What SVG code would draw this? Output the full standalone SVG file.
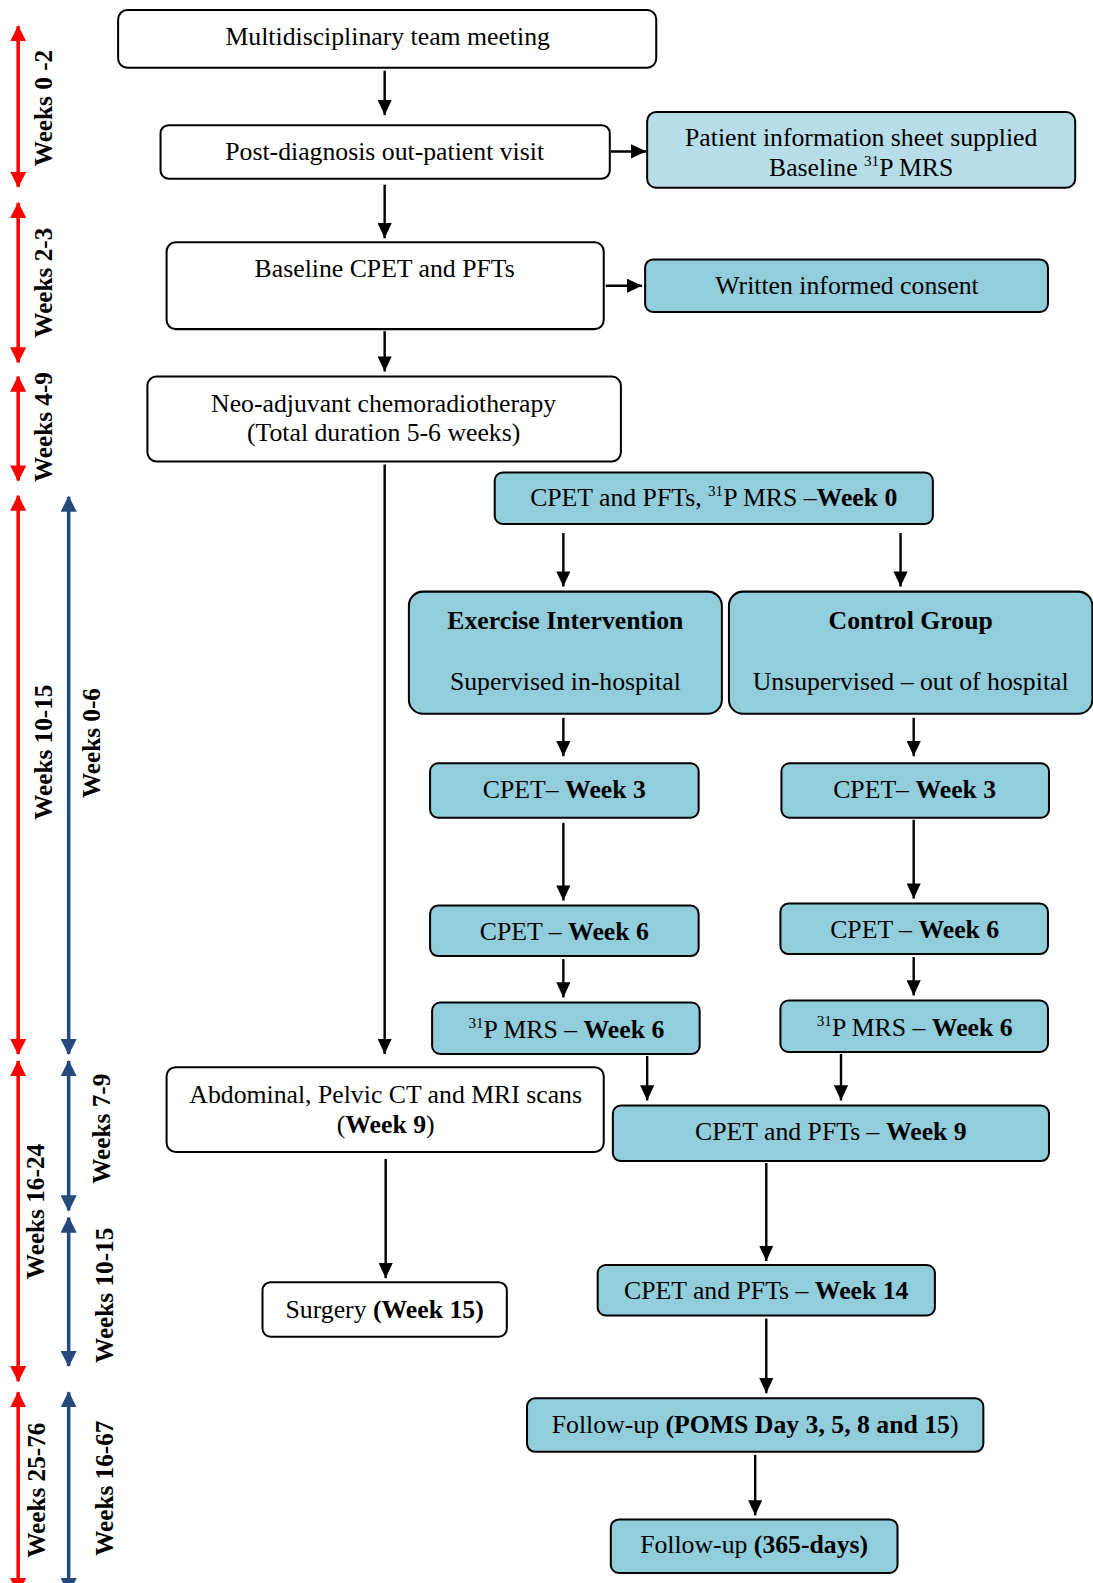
<svg xmlns="http://www.w3.org/2000/svg" width="1093" height="1583" viewBox="0 0 1093 1583">
<style>
.t{font-family:"Liberation Serif","Times New Roman",serif;font-size:25.5px;fill:#000;text-anchor:middle}
.b{font-weight:bold}
.lbl{font-family:"Liberation Serif","Times New Roman",serif;font-size:25px;font-weight:bold;fill:#000;text-anchor:middle}
.sup{font-size:15px}
.w{fill:#fff;stroke:#000;stroke-width:2}
.l{fill:#b7dee8;stroke:#000;stroke-width:2}
.m{fill:#92cddc;stroke:#000;stroke-width:2}
.c{stroke:#000;stroke-width:2.4;fill:none;marker-end:url(#ah)}
.red{stroke:#ff0000;stroke-width:3.5;fill:none;marker-start:url(#rh);marker-end:url(#rh)}
.blue{stroke:#244a7c;stroke-width:3.5;fill:none;marker-start:url(#bh);marker-end:url(#bh)}
</style>
<defs>
<marker id="ah" markerUnits="userSpaceOnUse" markerWidth="15" markerHeight="14" refX="15" refY="7" orient="auto" viewBox="0 0 15 14">
<path d="M0,0 L15,7 L0,14 Z" fill="#000"/>
</marker>
<marker id="rh" markerUnits="userSpaceOnUse" markerWidth="16" markerHeight="16" refX="15" refY="8" orient="auto-start-reverse" viewBox="0 0 16 16">
<path d="M0,0 L16,8 L0,16 Z" fill="#ff0000"/>
</marker>
<marker id="bh" markerUnits="userSpaceOnUse" markerWidth="16" markerHeight="16" refX="15" refY="8" orient="auto-start-reverse" viewBox="0 0 16 16">
<path d="M0,0 L16,8 L0,16 Z" fill="#244a7c"/>
</marker>
</defs>
<rect width="1093" height="1583" fill="#fff"/>
<g transform="scale(1.0096)">
<g id="timeline">
<line class="red" x1="18" y1="26" x2="18" y2="185"/>
<line class="red" x1="18" y1="201" x2="18" y2="359"/>
<line class="red" x1="18" y1="373" x2="18" y2="476"/>
<line class="red" x1="18" y1="491" x2="18" y2="1044"/>
<line class="red" x1="18" y1="1051" x2="18" y2="1368"/>
<line class="red" x1="18" y1="1379" x2="18" y2="1578"/>
<line class="blue" x1="68" y1="492" x2="68" y2="1044"/>
<line class="blue" x1="68" y1="1051" x2="68" y2="1199"/>
<line class="blue" x1="68" y1="1206" x2="68" y2="1353"/>
<line class="blue" x1="68" y1="1379" x2="68" y2="1578"/>
<text class="lbl" transform="translate(52,107) rotate(-90)">Weeks 0 -2</text>
<text class="lbl" transform="translate(52,280) rotate(-90)">Weeks 2-3</text>
<text class="lbl" transform="translate(52,423) rotate(-90)">Weeks 4-9</text>
<text class="lbl" transform="translate(52,745) rotate(-90)">Weeks 10-15</text>
<text class="lbl" transform="translate(99,736) rotate(-90)">Weeks 0-6</text>
<text class="lbl" transform="translate(44,1200) rotate(-90)">Weeks 16-24</text>
<text class="lbl" transform="translate(109,1118) rotate(-90)">Weeks 7-9</text>
<text class="lbl" transform="translate(112,1283) rotate(-90)">Weeks 10-15</text>
<text class="lbl" transform="translate(45,1476) rotate(-90)">Weeks 25-76</text>
<text class="lbl" transform="translate(112,1474) rotate(-90)">Weeks 16-67</text>
</g>

<g id="connectors">
<line class="c" x1="381" y1="70" x2="381" y2="114"/>
<line class="c" x1="605" y1="150" x2="640" y2="150"/>
<line class="c" x1="381" y1="183" x2="381" y2="236"/>
<line class="c" x1="600" y1="283" x2="636" y2="283"/>
<line class="c" x1="381" y1="328" x2="381" y2="368"/>
<line class="c" x1="381" y1="460" x2="381" y2="1044"/>
<line class="c" x1="558" y1="528" x2="558" y2="581"/>
<line class="c" x1="892" y1="528" x2="892" y2="581"/>
<line class="c" x1="558" y1="711" x2="558" y2="749"/>
<line class="c" x1="905" y1="711" x2="905" y2="749"/>
<line class="c" x1="558" y1="815" x2="558" y2="892"/>
<line class="c" x1="905" y1="812" x2="905" y2="890"/>
<line class="c" x1="558" y1="950" x2="558" y2="988"/>
<line class="c" x1="905" y1="948" x2="905" y2="986"/>
<line class="c" x1="641" y1="1046" x2="641" y2="1090"/>
<line class="c" x1="833" y1="1044" x2="833" y2="1090"/>
<line class="c" x1="382" y1="1148" x2="382" y2="1266"/>
<line class="c" x1="759" y1="1152" x2="759" y2="1249"/>
<line class="c" x1="759" y1="1306" x2="759" y2="1380"/>
<line class="c" x1="748" y1="1441" x2="748" y2="1501"/>
</g>

<g id="n-mdt">
<rect class="w" x="117" y="10" width="533" height="57" rx="9"/>
<text class="t" x="384" y="45">Multidisciplinary team meeting</text>
</g>
<g id="n-post">
<rect class="w" x="159" y="124" width="445" height="53" rx="8"/>
<text class="t" x="381" y="158">Post-diagnosis out-patient visit</text>
</g>
<g id="n-info">
<rect class="l" x="641" y="111" width="424" height="75" rx="9"/>
<text class="t" x="853" y="145">Patient information sheet supplied</text>
<text class="t" x="853" y="174">Baseline <tspan class="sup" dy="-10">31</tspan><tspan dy="10">P MRS</tspan></text>
</g>
<g id="n-baseline">
<rect class="w" x="165" y="240" width="433" height="86" rx="9"/>
<text class="t" x="381" y="274">Baseline CPET and PFTs</text>
</g>
<g id="n-consent">
<rect class="m" x="639" y="257" width="399" height="52" rx="8"/>
<text class="t" x="839" y="291">Written informed consent</text>
</g>
<g id="n-neo">
<rect class="w" x="146" y="373" width="469" height="84" rx="9"/>
<text class="t" x="380" y="408">Neo-adjuvant chemoradiotherapy</text>
<text class="t" x="380" y="437">(Total duration 5-6 weeks)</text>
</g>
<g id="n-week0">
<rect class="m" x="490" y="468" width="434" height="51" rx="8"/>
<text class="t" x="707" y="501">CPET and PFTs, <tspan class="sup" dy="-10">31</tspan><tspan dy="10">P MRS –</tspan><tspan class="b">Week 0</tspan></text>
</g>
<g id="n-exercise">
<rect class="m" x="405" y="586" width="310" height="121" rx="14"/>
<text class="t b" x="560" y="623">Exercise Intervention</text>
<text class="t" x="560" y="683">Supervised in-hospital</text>
</g>
<g id="n-control">
<rect class="m" x="722" y="586" width="360" height="121" rx="14"/>
<text class="t b" x="902" y="623">Control Group</text>
<text class="t" x="902" y="683">Unsupervised – out of hospital</text>
</g>
<g id="n-ex-w3">
<rect class="m" x="426" y="756" width="266" height="54" rx="8"/>
<text class="t" x="559" y="790">CPET– <tspan class="b">Week 3</tspan></text>
</g>
<g id="n-co-w3">
<rect class="m" x="774" y="756" width="265" height="54" rx="8"/>
<text class="t" x="906" y="790">CPET– <tspan class="b">Week 3</tspan></text>
</g>
<g id="n-ex-w6">
<rect class="m" x="426" y="897" width="266" height="50" rx="8"/>
<text class="t" x="559" y="931">CPET – <tspan class="b">Week 6</tspan></text>
</g>
<g id="n-co-w6">
<rect class="m" x="773" y="895" width="265" height="50" rx="8"/>
<text class="t" x="906" y="929">CPET – <tspan class="b">Week 6</tspan></text>
</g>
<g id="n-ex-mrs">
<rect class="m" x="428" y="993" width="265" height="51" rx="8"/>
<text class="t" x="561" y="1028"><tspan class="sup" dy="-10">31</tspan><tspan dy="10">P MRS – </tspan><tspan class="b">Week 6</tspan></text>
</g>
<g id="n-co-mrs">
<rect class="m" x="773" y="991" width="265" height="51" rx="8"/>
<text class="t" x="906" y="1026"><tspan class="sup" dy="-10">31</tspan><tspan dy="10">P MRS – </tspan><tspan class="b">Week 6</tspan></text>
</g>
<g id="n-scans">
<rect class="w" x="165" y="1057" width="433" height="84" rx="9"/>
<text class="t" x="382" y="1093">Abdominal, Pelvic CT and MRI scans</text>
<text class="t" x="382" y="1122">(<tspan class="b">Week 9</tspan>)</text>
</g>
<g id="n-w9">
<rect class="m" x="607" y="1095" width="432" height="55" rx="8"/>
<text class="t" x="823" y="1129">CPET and PFTs – <tspan class="b">Week 9</tspan></text>
</g>
<g id="n-surgery">
<rect class="w" x="260" y="1270" width="242" height="54" rx="8"/>
<text class="t" x="381" y="1305">Surgery <tspan class="b">(Week 15)</tspan></text>
</g>
<g id="n-w14">
<rect class="m" x="592" y="1253" width="334" height="50" rx="8"/>
<text class="t" x="759" y="1287">CPET and PFTs – <tspan class="b">Week 14</tspan></text>
</g>
<g id="n-poms">
<rect class="m" x="522" y="1385" width="452" height="53" rx="8"/>
<text class="t" x="748" y="1419">Follow-up <tspan class="b">(POMS Day 3, 5, 8 and 15</tspan>)</text>
</g>
<g id="n-365">
<rect class="m" x="605" y="1505" width="284" height="53" rx="8"/>
<text class="t" x="747" y="1538">Follow-up <tspan class="b">(365-days)</tspan></text>
</g>
</g>
</svg>
